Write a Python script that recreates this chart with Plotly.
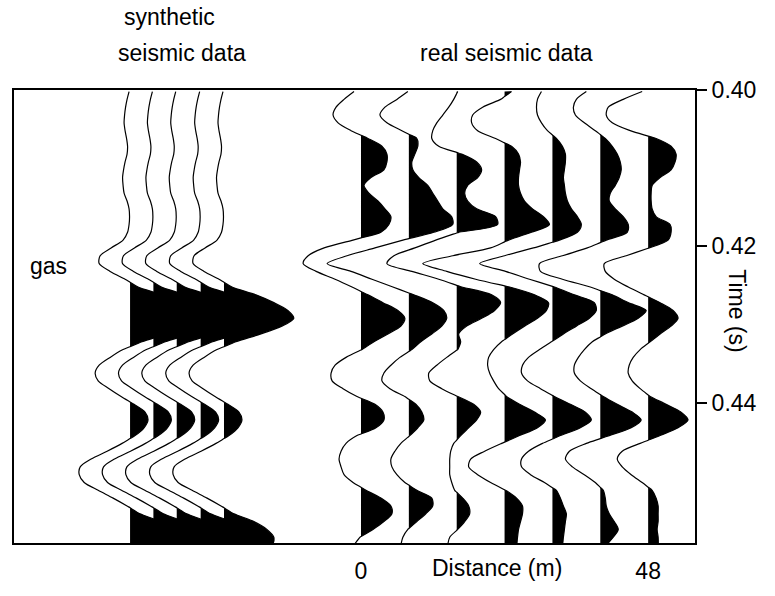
import plotly.graph_objects as go

# ---------------- data ----------------
time_s = [0.4002, 0.4012, 0.4022, 0.4032, 0.4042, 0.4052, 0.4062, 0.4072, 0.4082, 0.4092,
          0.4102, 0.4112, 0.4122, 0.4132, 0.4142, 0.4152, 0.4162, 0.4172, 0.4182, 0.4192,
          0.4202, 0.4212, 0.4222, 0.4232, 0.4242, 0.4252, 0.4262, 0.4272, 0.4282, 0.4292,
          0.4302, 0.4312, 0.4322, 0.4332, 0.4342, 0.4352, 0.4362, 0.4372, 0.4382, 0.4392,
          0.4402, 0.4412, 0.4422, 0.4432, 0.4442, 0.4452, 0.4462, 0.4472, 0.4482, 0.4492,
          0.4502, 0.4512, 0.4522, 0.4532, 0.4542, 0.4552, 0.4562, 0.4572, 0.4582]

# synthetic wavelet (same on every synthetic trace)
synthetic_amp = [-1, -3, -4.5, -5.5, -6, -5, -3.5, -2.5, -3, -5, -6.5, -7.5, -7, -6, -3, -1, -0.5, -1,
                 -2.5, -7, -19, -30, -31, -20, -5, 8, 32, 50, 64, 70, 58, 37, 12, -7, -20, -31, -35,
                 -32, -21, -9, 4, 15, 18, 14, 5, -8, -23, -39, -50, -51, -46, -32, -17, -3, 10, 30,
                 43, 50, 49]
synthetic_offsets_m = [-38.6, -34.7, -30.8, -26.8, -22.9]

# real traces
distance_m = [0, 8, 16, 24, 32, 40, 48]
real_0m = [-7, -17, -25, -28, -23, -10, 7, 21, 26, 26, 23, 10, 3, 8, 17, 24, 30, 28, 20, -8, -37,
           -53, -58, -45, -26, -9, 7, 22, 37, 44, 40, 27, 13, 1, -15, -26, -30, -29, -18, -4, 14,
           22, 23, 15, -4, -15, -20, -22, -20, -17, -8, 5, 20, 30, 31, 23, 12, -1, -7]
real_8m = [-1, -12, -24, -29, -22, -7, 8, 9, 6, 3, 4, 10, 19, 24, 29, 34, 43, 44, 25, -6, -34, -62,
           -82, -58, -37, -16, 5, 24, 35, 38, 33, 23, 12, 3, -9, -18, -25, -27, -19, -4, 7, 13, 15,
           9, 1, -8, -14, -18, -17, -12, -4, 8, 23, 24, 17, 8, -1, -6, -8]
real_16m = [1, -3, -8, -14, -20, -24, -25, -18, 5, 20, 25, 21, 11, 8, 11, 20, 39, 41, 2, -21, -42,
            -63, -70, -45, -18, 5, 35, 44, 38, 25, 10, 2, 4, 1, -10, -20, -28, -27, -15, 1, 17, 24,
            20, 12, 4, -3, -6, -7, -7, -7, -5, -2, 6, 12, 13, 8, 1, -7, -9]
real_24m = [7, -4, -22, -32, -33, -27, -9, 7, 14, 16, 15, 14, 14, 16, 20, 28, 39, 45, 27, 4, -14,
            -52, -82, -58, -29, 5, 30, 44, 42, 33, 20, 8, -3, -11, -16, -17, -15, -11, -6, 2, 15,
            30, 41, 33, 15, -3, -20, -34, -36, -27, -14, 1, 12, 18, 18, 16, 14, 13, 12]
real_32m = [-11, -15, -16, -15, -11, -5, 4, 10, 13, 13, 12, 11, 12, 13, 15, 19, 25, 29, 25, 7, -19,
            -48, -73, -47, -23, 2, 22, 42, 44, 37, 24, 11, -1, -13, -24, -30, -31, -25, -12, 2, 18,
            33, 39, 28, 8, -10, -24, -31, -31, -22, -8, 4, 8, 11, 14, 13, 12, 11, 10]
real_40m = [-14, -24, -27, -25, -16, -5, 5, 12, 17, 20, 21, 19, 15, 10, 9, 15, 23, 28, 27, 6, -13,
            -38, -61, -60, -38, -10, 12, 28, 46, 38, 22, 5, -8, -16, -22, -26, -26, -20, -9, 3, 17,
            32, 41, 31, 9, -14, -31, -35, -28, -16, -5, 3, 5, 6, 9, 14, 18, 13, 6]
real_48m = [-6, -25, -40, -42, -36, -18, 8, 23, 28, 27, 23, 12, 4, 3, 3, 4, 8, 22, 23, 20, 1, -22,
            -44, -43, -34, -20, -4, 12, 25, 30, 23, 12, 2, -8, -15, -19, -20, -16, -8, 2, 18, 33,
            40, 30, 12, -8, -26, -31, -26, -17, -6, 4, 8, 10, 10, 10, 9, 10, 10]
real_traces = [real_0m, real_8m, real_16m, real_24m, real_32m, real_40m, real_48m]

y_ticks = [0.40, 0.42, 0.44]
y_tick_text = ["0.40", "0.42", "0.44"]
x_ticks = [0, 48]
x_tick_text = ["0", "48"]

# ---------------- drawing ----------------
GAIN = 1.0 / 6.0   # amplitude units -> metres of horizontal deflection
FONT = "Liberation Sans, Arial, Helvetica, sans-serif"
SHAPE = dict(shape="spline", smoothing=0.8)

fig = go.Figure()


def with_crossings(amps):
    """Sample points plus the points where the wiggle meets its baseline."""
    tt, aa = [], []
    for i, (ti, ai) in enumerate(zip(time_s, amps)):
        if i > 0:
            ap = amps[i - 1]
            if (ap > 0 > ai) or (ap < 0 < ai):
                f = ap / (ap - ai)
                tt.append(time_s[i - 1] + f * (ti - time_s[i - 1]))
                aa.append(0.0)
        tt.append(ti)
        aa.append(ai)
    return tt, aa


def lobes(tt, aa, sign, offset):
    """One closed outline per lobe of the given sign, separated by None."""
    xs, ys = [], []
    cur = None
    for i, (t, a) in enumerate(zip(tt, aa)):
        if sign * a > 0:
            if cur is None:
                start = tt[i - 1] if (i > 0 and aa[i - 1] == 0) else t
                cur = [(start, 0.0)]
            cur.append((t, a))
        elif cur is not None:
            cur.append((t, 0.0))
            for (pt, pa) in cur:
                xs.append(offset + GAIN * pa)
                ys.append(pt)
            xs.append(None)
            ys.append(None)
            cur = None
    if cur is not None:
        cur.append((tt[-1], 0.0))
        for (pt, pa) in cur:
            xs.append(offset + GAIN * pa)
            ys.append(pt)
    return xs, ys


def add_wiggle(offset, amps):
    tt, aa = with_crossings(amps)
    invisible = dict(width=0, color="rgba(0,0,0,0)", **SHAPE)
    nx, ny = lobes(tt, aa, -1, offset)
    fig.add_trace(go.Scatter(x=nx, y=ny, mode="lines", fill="toself", fillcolor="white",
                             line=invisible, connectgaps=False,
                             hoverinfo="skip", showlegend=False))
    px, py = lobes(tt, aa, 1, offset)
    fig.add_trace(go.Scatter(x=px, y=py, mode="lines", fill="toself", fillcolor="black",
                             line=invisible, connectgaps=False,
                             hoverinfo="skip", showlegend=False))
    fig.add_trace(go.Scatter(x=[offset + GAIN * a for a in aa], y=tt, mode="lines",
                             line=dict(color="black", width=1.2, **SHAPE),
                             hoverinfo="skip", showlegend=False))


for off in synthetic_offsets_m:
    add_wiggle(off, synthetic_amp)
for off, amps in zip(distance_m, real_traces):
    add_wiggle(off, amps)

text_font = dict(family=FONT, size=23, color="black")
annotations = [
    dict(text="synthetic", x=-32, xref="x", y=1.1613, yref="paper"),
    dict(text="seismic data", x=-30, xref="x", y=1.0817, yref="paper"),
    dict(text="real seismic data", x=24.3, xref="x", y=1.0817, yref="paper"),
    dict(text="gas", x=-52.2, xref="x", y=0.4225, yref="y"),
    dict(text="Distance (m)", x=22.8, xref="x", y=-0.056, yref="paper"),
    dict(text="Time (s)", x=1.0615, xref="paper", y=0.512, yref="paper", textangle=90),
]
for a in annotations:
    a.update(showarrow=False, xanchor="center", yanchor="middle", font=text_font)

fig.update_layout(
    width=775, height=596,
    margin=dict(l=12, r=80, t=90, b=41),
    paper_bgcolor="white", plot_bgcolor="white",
    showlegend=False,
    font=text_font,
    annotations=annotations,
    xaxis=dict(range=[-58, 55.83], showgrid=False, zeroline=False, showline=True,
               linecolor="black", linewidth=2, mirror=True, ticks="",
               tickvals=x_ticks, ticktext=x_tick_text, tickfont=text_font,
               ticklabelstandoff=6),
    yaxis=dict(range=[0.45794, 0.40], side="right", showgrid=False, zeroline=False,
               showline=True, linecolor="black", linewidth=2, mirror=True,
               ticks="outside", ticklen=10, tickwidth=2, tickcolor="black",
               tickvals=y_ticks, ticktext=y_tick_text, tickfont=text_font),
)

fig.write_html("out.html",
               config={"displayModeBar": False},
               post_script="document.body.style.margin='0';document.body.style.overflow='hidden';")
